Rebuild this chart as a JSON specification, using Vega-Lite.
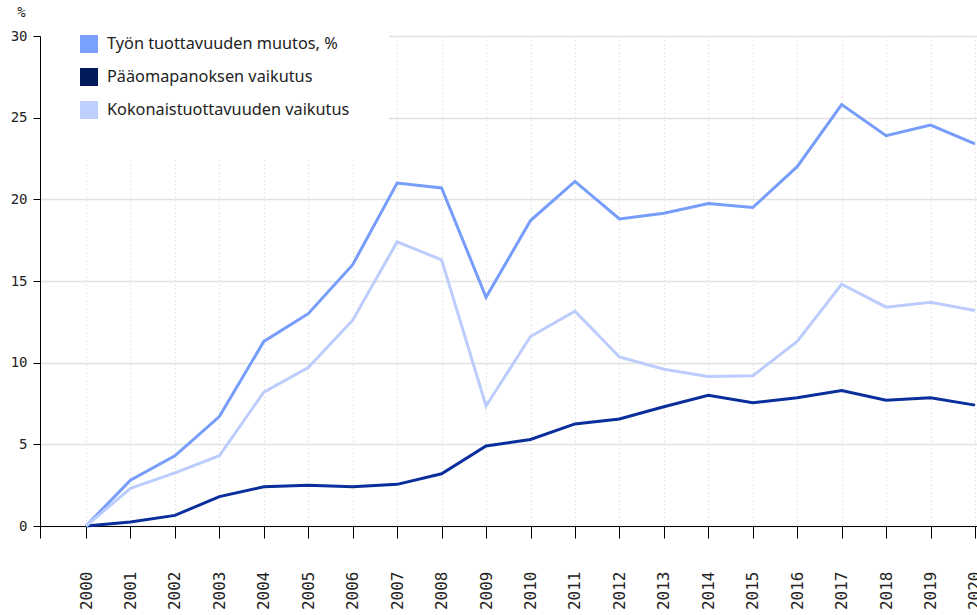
{
  "$schema": "https://vega.github.io/schema/vega-lite/v6.json",
  "autosize": "none",
  "width": 937,
  "height": 490,
  "padding": {"left": 40, "top": 36, "right": 0, "bottom": 89},
  "background": "white",
  "config": {"view": {"stroke": null}},
  "data": {
    "values": [
      {"vuosi": 2000, "sarja": "Työn tuottavuuden muutos, %", "arvo": 0},
      {"vuosi": 2001, "sarja": "Työn tuottavuuden muutos, %", "arvo": 2.8},
      {"vuosi": 2002, "sarja": "Työn tuottavuuden muutos, %", "arvo": 4.3},
      {"vuosi": 2003, "sarja": "Työn tuottavuuden muutos, %", "arvo": 6.7},
      {"vuosi": 2004, "sarja": "Työn tuottavuuden muutos, %", "arvo": 11.3},
      {"vuosi": 2005, "sarja": "Työn tuottavuuden muutos, %", "arvo": 13.0},
      {"vuosi": 2006, "sarja": "Työn tuottavuuden muutos, %", "arvo": 16.0},
      {"vuosi": 2007, "sarja": "Työn tuottavuuden muutos, %", "arvo": 21.0},
      {"vuosi": 2008, "sarja": "Työn tuottavuuden muutos, %", "arvo": 20.7},
      {"vuosi": 2009, "sarja": "Työn tuottavuuden muutos, %", "arvo": 14.0},
      {"vuosi": 2010, "sarja": "Työn tuottavuuden muutos, %", "arvo": 18.7},
      {"vuosi": 2011, "sarja": "Työn tuottavuuden muutos, %", "arvo": 21.1},
      {"vuosi": 2012, "sarja": "Työn tuottavuuden muutos, %", "arvo": 18.8},
      {"vuosi": 2013, "sarja": "Työn tuottavuuden muutos, %", "arvo": 19.15},
      {"vuosi": 2014, "sarja": "Työn tuottavuuden muutos, %", "arvo": 19.75},
      {"vuosi": 2015, "sarja": "Työn tuottavuuden muutos, %", "arvo": 19.5},
      {"vuosi": 2016, "sarja": "Työn tuottavuuden muutos, %", "arvo": 22.0},
      {"vuosi": 2017, "sarja": "Työn tuottavuuden muutos, %", "arvo": 25.8},
      {"vuosi": 2018, "sarja": "Työn tuottavuuden muutos, %", "arvo": 23.9},
      {"vuosi": 2019, "sarja": "Työn tuottavuuden muutos, %", "arvo": 24.55},
      {"vuosi": 2020, "sarja": "Työn tuottavuuden muutos, %", "arvo": 23.4},
      {"vuosi": 2000, "sarja": "Pääomapanoksen vaikutus", "arvo": 0},
      {"vuosi": 2001, "sarja": "Pääomapanoksen vaikutus", "arvo": 0.25},
      {"vuosi": 2002, "sarja": "Pääomapanoksen vaikutus", "arvo": 0.65},
      {"vuosi": 2003, "sarja": "Pääomapanoksen vaikutus", "arvo": 1.8},
      {"vuosi": 2004, "sarja": "Pääomapanoksen vaikutus", "arvo": 2.4},
      {"vuosi": 2005, "sarja": "Pääomapanoksen vaikutus", "arvo": 2.5},
      {"vuosi": 2006, "sarja": "Pääomapanoksen vaikutus", "arvo": 2.4},
      {"vuosi": 2007, "sarja": "Pääomapanoksen vaikutus", "arvo": 2.55},
      {"vuosi": 2008, "sarja": "Pääomapanoksen vaikutus", "arvo": 3.2},
      {"vuosi": 2009, "sarja": "Pääomapanoksen vaikutus", "arvo": 4.9},
      {"vuosi": 2010, "sarja": "Pääomapanoksen vaikutus", "arvo": 5.3},
      {"vuosi": 2011, "sarja": "Pääomapanoksen vaikutus", "arvo": 6.25},
      {"vuosi": 2012, "sarja": "Pääomapanoksen vaikutus", "arvo": 6.55},
      {"vuosi": 2013, "sarja": "Pääomapanoksen vaikutus", "arvo": 7.3},
      {"vuosi": 2014, "sarja": "Pääomapanoksen vaikutus", "arvo": 8.0},
      {"vuosi": 2015, "sarja": "Pääomapanoksen vaikutus", "arvo": 7.55},
      {"vuosi": 2016, "sarja": "Pääomapanoksen vaikutus", "arvo": 7.85},
      {"vuosi": 2017, "sarja": "Pääomapanoksen vaikutus", "arvo": 8.3},
      {"vuosi": 2018, "sarja": "Pääomapanoksen vaikutus", "arvo": 7.7},
      {"vuosi": 2019, "sarja": "Pääomapanoksen vaikutus", "arvo": 7.85},
      {"vuosi": 2020, "sarja": "Pääomapanoksen vaikutus", "arvo": 7.4},
      {"vuosi": 2000, "sarja": "Kokonaistuottavuuden vaikutus", "arvo": 0},
      {"vuosi": 2001, "sarja": "Kokonaistuottavuuden vaikutus", "arvo": 2.3},
      {"vuosi": 2002, "sarja": "Kokonaistuottavuuden vaikutus", "arvo": 3.25},
      {"vuosi": 2003, "sarja": "Kokonaistuottavuuden vaikutus", "arvo": 4.3},
      {"vuosi": 2004, "sarja": "Kokonaistuottavuuden vaikutus", "arvo": 8.2},
      {"vuosi": 2005, "sarja": "Kokonaistuottavuuden vaikutus", "arvo": 9.7},
      {"vuosi": 2006, "sarja": "Kokonaistuottavuuden vaikutus", "arvo": 12.6},
      {"vuosi": 2007, "sarja": "Kokonaistuottavuuden vaikutus", "arvo": 17.4},
      {"vuosi": 2008, "sarja": "Kokonaistuottavuuden vaikutus", "arvo": 16.3},
      {"vuosi": 2009, "sarja": "Kokonaistuottavuuden vaikutus", "arvo": 7.35},
      {"vuosi": 2010, "sarja": "Kokonaistuottavuuden vaikutus", "arvo": 11.6},
      {"vuosi": 2011, "sarja": "Kokonaistuottavuuden vaikutus", "arvo": 13.15},
      {"vuosi": 2012, "sarja": "Kokonaistuottavuuden vaikutus", "arvo": 10.35},
      {"vuosi": 2013, "sarja": "Kokonaistuottavuuden vaikutus", "arvo": 9.6},
      {"vuosi": 2014, "sarja": "Kokonaistuottavuuden vaikutus", "arvo": 9.15},
      {"vuosi": 2015, "sarja": "Kokonaistuottavuuden vaikutus", "arvo": 9.2},
      {"vuosi": 2016, "sarja": "Kokonaistuottavuuden vaikutus", "arvo": 11.3},
      {"vuosi": 2017, "sarja": "Kokonaistuottavuuden vaikutus", "arvo": 14.8},
      {"vuosi": 2018, "sarja": "Kokonaistuottavuuden vaikutus", "arvo": 13.4},
      {"vuosi": 2019, "sarja": "Kokonaistuottavuuden vaikutus", "arvo": 13.7},
      {"vuosi": 2020, "sarja": "Kokonaistuottavuuden vaikutus", "arvo": 13.2}
    ]
  },
  "mark": {"type": "line", "strokeWidth": 3, "strokeJoin": "miter", "clip": false},
  "encoding": {
    "x": {
      "field": "vuosi",
      "type": "quantitative",
      "scale": {"domain": [1998.965, 2020.045], "nice": false, "zero": false},
      "axis": {
        "title": null,
        "values": [1998.965, 2000, 2001, 2002, 2003, 2004, 2005, 2006, 2007, 2008, 2009, 2010, 2011, 2012, 2013, 2014, 2015, 2016, 2017, 2018, 2019, 2020],
        "labelExpr": "datum.value < 1999.5 ? '' : format(datum.value, 'd')",
        "labelAngle": 270,
        "labelAlign": "right",
        "labelBaseline": "middle",
        "labelFont": "DejaVu Sans Mono",
        "labelFontSize": 16,
        "labelColor": "#222222",
        "labelPadding": 33,
        "labelOverlap": false,
        "labelFlush": false,
        "tickSize": 12,
        "tickColor": "#000000",
        "tickWidth": 1,
        "domainColor": "#000000",
        "domainWidth": 1,
        "grid": true,
        "gridColor": "#d0d0d0",
        "gridDash": [1, 3],
        "gridWidth": 1
      }
    },
    "y": {
      "field": "arvo",
      "type": "quantitative",
      "scale": {"domain": [0, 30], "nice": false},
      "axis": {
        "title": "%",
        "titleAngle": 0,
        "titleAnchor": "end",
        "titleAlign": "center",
        "titleBaseline": "middle",
        "titleX": -19,
        "titleY": -24,
        "titleFont": "DejaVu Sans Mono",
        "titleFontSize": 14,
        "titleFontWeight": "normal",
        "titleColor": "#222222",
        "values": [0, 5, 10, 15, 20, 25, 30],
        "labelFont": "DejaVu Sans Mono",
        "labelFontSize": 14,
        "labelColor": "#222222",
        "labelPadding": 6,
        "tickSize": 7,
        "tickColor": "#000000",
        "domainColor": "#000000",
        "grid": true,
        "gridColor": "#e2e2e2",
        "gridWidth": 1.5
      }
    },
    "color": {
      "field": "sarja",
      "type": "nominal",
      "sort": null,
      "scale": {
        "domain": ["Työn tuottavuuden muutos, %", "Pääomapanoksen vaikutus", "Kokonaistuottavuuden vaikutus"],
        "range": ["#779dfb", "#0a2f9c", "#bccdfd"]
      },
      "legend": {
        "title": null,
        "orient": "none",
        "legendX": 1,
        "legendY": -40,
        "fillColor": "white",
        "padding": 39,
        "symbolType": "square",
        "symbolSize": 324,
        "symbolStrokeWidth": 0,
        "labelFont": "Noto Sans",
        "labelFontSize": 16.3,
        "labelColor": "#222222",
        "labelOffset": 9,
        "rowPadding": 15,
        "labelLimit": 400,
        "encode": {
          "symbols": {
            "update": {
              "fill": {"signal": "datum.value === 'Pääomapanoksen vaikutus' ? '#001a5c' : (datum.value === 'Työn tuottavuuden muutos, %' ? '#7aa0ff' : '#bccfff')"},
              "fillOpacity": {"value": 1},
              "strokeWidth": {"value": 0}
            }
          }
        }
      }
    }
  }
}
